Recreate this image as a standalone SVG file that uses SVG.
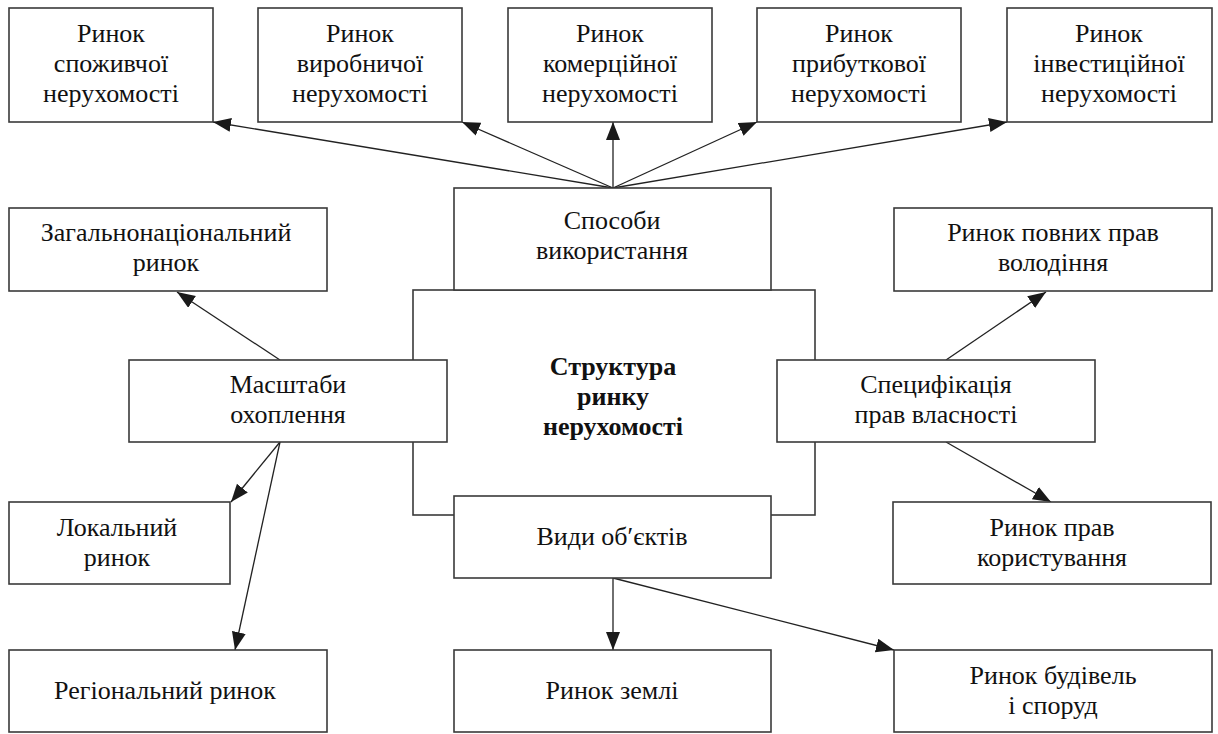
<svg xmlns="http://www.w3.org/2000/svg" width="1218" height="734" viewBox="0 0 1218 734" font-family="'Liberation Serif', 'Times New Roman', 'DejaVu Serif', serif">
<defs>
<style>
.box{fill:#fff;stroke:#3a3a3a;stroke-width:1.6}
.frame{fill:none;stroke:#3a3a3a;stroke-width:1.6}
.ln{fill:none;stroke:#222;stroke-width:1.3;marker-end:url(#ah)}
text{font-family:'Liberation Serif','Times New Roman','DejaVu Serif',serif;font-size:26px;fill:#111;text-anchor:middle}
.b{font-weight:bold}
</style>
<marker id="ah" markerUnits="userSpaceOnUse" markerWidth="20" markerHeight="16" refX="18" refY="7" orient="auto">
<path d="M0,0 L18,7 L0,14 Z" fill="#1a1a1a"/>
</marker>
</defs>
<rect width="1218" height="734" fill="#fff"/>

<g id="n-center">
<rect class="frame" x="413" y="290" width="402" height="225"/>
<text class="b" x="613" y="375">Структура</text>
<text class="b" x="613" y="405">ринку</text>
<text class="b" x="613" y="435">нерухомості</text>
</g>

<g id="connectors">
<line class="ln" x1="613" y1="188" x2="213" y2="122"/>
<line class="ln" x1="613" y1="188" x2="462" y2="122"/>
<line class="ln" x1="613" y1="188" x2="613" y2="122"/>
<line class="ln" x1="613" y1="188" x2="757" y2="122"/>
<line class="ln" x1="613" y1="188" x2="1007" y2="122"/>
<line class="ln" x1="280" y1="360" x2="177" y2="292"/>
<line class="ln" x1="280" y1="442" x2="231" y2="502"/>
<line class="ln" x1="280" y1="442" x2="235" y2="650"/>
<line class="ln" x1="946" y1="360" x2="1046" y2="292"/>
<line class="ln" x1="946" y1="442" x2="1051" y2="502"/>
<line class="ln" x1="613" y1="578" x2="613" y2="650"/>
<line class="ln" x1="613" y1="578" x2="894" y2="650"/>
</g>

<g id="n-spozhyvchoi">
<rect class="box" x="9" y="8" width="204" height="114"/>
<text x="111" y="42">Ринок</text>
<text x="111" y="72">споживчої</text>
<text x="111" y="102">нерухомості</text>
</g>
<g id="n-vyrobnychoi">
<rect class="box" x="258" y="8" width="204" height="114"/>
<text x="360" y="42">Ринок</text>
<text x="360" y="72">виробничої</text>
<text x="360" y="102">нерухомості</text>
</g>
<g id="n-komertsiinoi">
<rect class="box" x="508" y="8" width="204" height="114"/>
<text x="610" y="42">Ринок</text>
<text x="610" y="72">комерційної</text>
<text x="610" y="102">нерухомості</text>
</g>
<g id="n-prybutkovoi">
<rect class="box" x="757" y="8" width="204" height="114"/>
<text x="859" y="42">Ринок</text>
<text x="859" y="72">прибуткової</text>
<text x="859" y="102">нерухомості</text>
</g>
<g id="n-investytsiinoi">
<rect class="box" x="1007" y="8" width="205" height="114"/>
<text x="1109" y="42">Ринок</text>
<text x="1109" y="72">інвестиційної</text>
<text x="1109" y="102">нерухомості</text>
</g>

<g id="n-sposoby">
<rect class="box" x="454" y="188" width="317" height="102"/>
<text x="612" y="229">Способи</text>
<text x="612" y="259">використання</text>
</g>

<g id="n-zahalnonats">
<rect class="box" x="9" y="208" width="318" height="83"/>
<text x="166" y="241">Загальнонаціональний</text>
<text x="166" y="271">ринок</text>
</g>
<g id="n-masshtaby">
<rect class="box" x="129" y="360" width="318" height="82"/>
<text x="288" y="393">Масштаби</text>
<text x="288" y="423">охоплення</text>
</g>
<g id="n-lokalnyi">
<rect class="box" x="9" y="502" width="221" height="82"/>
<text x="117" y="536">Локальний</text>
<text x="117" y="566">ринок</text>
</g>
<g id="n-rehionalnyi">
<rect class="box" x="9" y="650" width="318" height="82"/>
<text x="165" y="699">Регіональний ринок</text>
</g>

<g id="n-povnykh">
<rect class="box" x="894" y="208" width="318" height="83"/>
<text x="1053" y="241">Ринок повних прав</text>
<text x="1053" y="271">володіння</text>
</g>
<g id="n-spetsyfikatsiia">
<rect class="box" x="777" y="360" width="318" height="82"/>
<text x="936" y="393">Специфікація</text>
<text x="936" y="423">прав власності</text>
</g>
<g id="n-korystuvannia">
<rect class="box" x="893" y="502" width="318" height="82"/>
<text x="1052" y="536">Ринок прав</text>
<text x="1052" y="566">користування</text>
</g>

<g id="n-vydy">
<rect class="box" x="454" y="496" width="317" height="82"/>
<text x="612" y="545">Види об′єктів</text>
</g>
<g id="n-zemli">
<rect class="box" x="454" y="650" width="317" height="82"/>
<text x="612" y="699">Ринок землі</text>
</g>
<g id="n-budivel">
<rect class="box" x="894" y="650" width="318" height="82"/>
<text x="1053" y="684">Ринок будівель</text>
<text x="1053" y="714">і споруд</text>
</g>
</svg>
